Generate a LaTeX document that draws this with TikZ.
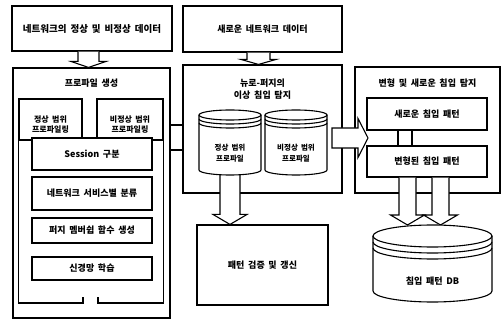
\documentclass[tikz,border=0pt]{standalone}
\usepackage{fontspec}
\setmainfont{Noto Sans CJK KR}[WordSpace=1.8]
\usetikzlibrary{calc}

\tikzset{
  box/.style={rectangle,draw,fill=white,line width=1.1pt,inner sep=0pt,align=center,
    font=\bfseries\fontsize{9}{11}\selectfont},
  blk/.style={draw,fill=white,line width=1.1pt,line join=miter},
  cyl/.style={draw,fill=white,line width=1.1pt},
  lbl/.style={inner sep=0pt,align=center,font=\bfseries\fontsize{9}{12}\selectfont},
  small/.style={inner sep=0pt,align=center,font=\bfseries\fontsize{7.5}{11}\selectfont},
}

% block arrow pointing down: from, to, half stem, half head, head length
\newcommand{\blkdown}[5]{%
  \filldraw[blk] let \p1=(#1), \p2=(#2) in
    (\x1-#3,\y1) -- (\x1-#3,\y2+#5) -- (\x1-#4,\y2+#5) -- (\x2,\y2)
    -- (\x1+#4,\y2+#5) -- (\x1+#3,\y2+#5) -- (\x1+#3,\y1);
}
% block arrow pointing right: from, to, half stem, half head, head length
\newcommand{\blkright}[5]{%
  \filldraw[blk] let \p1=(#1), \p2=(#2) in
    (\x1,\y1+#3) -- (\x2-#5,\y1+#3) -- (\x2-#5,\y1+#4) -- (\x2,\y2)
    -- (\x2-#5,\y1-#4) -- (\x2-#5,\y1-#3) -- (\x1,\y1-#3) -- cycle;
}
% drum: name, centre x, y of top ellipse, y of body bottom, rx, ry, rim gap
\newcommand{\drum}[7]{%
  \filldraw[cyl] (#2-#5,#3) -- (#2-#5,#4) arc[start angle=180,end angle=360,x radius=#5,y radius=#6] -- (#2+#5,#3);
  \filldraw[cyl] (#2,#3) ellipse [x radius=#5,y radius=#6];
  \draw[line width=1.1pt] (#2-#5,#3-#7) arc[start angle=180,end angle=360,x radius=#5,y radius=#6];
  \draw[line width=1.1pt] (#2-#5,#3-2*#7) arc[start angle=180,end angle=360,x radius=#5,y radius=#6];
  \coordinate (#1-top) at (#2,#3+#6);
  \coordinate (#1-bot) at (#2,#4);
}

\begin{document}
\begin{tikzpicture}[x=1pt,y=1pt]
  \useasboundingbox[fill=white] (0,0) rectangle (502,326);

  % input data
  \node[box,minimum width=160,minimum height=45,font=\bfseries\fontsize{9.5}{11}\selectfont] (datatop) at (92,297.5) {네트워크의 정상 및 비정상 데이터};
  \node[box,minimum width=159,minimum height=46] (newdata) at (262.5,297) {새로운 네트워크 데이터};

  % profile generation
  \node[box,minimum width=157,minimum height=250] (profgen) at (91.5,133) {};
  \node[lbl] (proftitle) at (91.5,243) {프로파일 생성};
  \node[box,minimum width=63,minimum height=41] (prof1) at (50.5,206.5) {};
  \node[box,minimum width=66,minimum height=41] (prof2) at (130,206.5) {};
  \node[small,font=\bfseries\fontsize{8}{10}\selectfont] (prof1txt) at (50.5,201) {정상 범위\\프로파일링};
  \node[small,font=\bfseries\fontsize{8}{10}\selectfont] (prof2txt) at (130,201) {비정상 범위\\프로파일링};
  \coordinate (gapL) at (83,29);
  \coordinate (gapR) at (98,29);
  \draw[line width=1.1pt] (gapL) -- (83,23) -| (prof1.north west);
  \draw[line width=1.1pt] (gapR) -- (98,23) -| (prof2.north east);
  \node[box,minimum width=120,minimum height=32] (session) at (92,172) {Session 구분};
  \node[box,minimum width=120,minimum height=33] (service) at (92,132.5) {네트워크 서비스별 분류};
  \node[box,minimum width=120,minimum height=25] (fuzzy) at (92,95.5) {퍼지 멤버쉽 함수 생성};
  \node[box,minimum width=120,minimum height=23] (neural) at (92,57.5) {신경망 학습};

  % anomaly detection
  \node[box,minimum width=159,minimum height=128] (neuro) at (262.5,197) {};
  \node[lbl] (neurotitle) at (262.5,237) {뉴로-퍼지의\\이상 침입 탐지};
  \node[box,minimum width=131,minimum height=80] (check) at (262.5,61) {패턴 검증 및 갱신};

  % misuse detection
  \node[box,minimum width=145,minimum height=126] (detect) at (427.5,196) {};
  \node[lbl] (detecttitle) at (427.5,243) {변형 및 새로운 침입 탐지};
  \node[box,minimum width=120,minimum height=32] (newpat) at (427,212) {새로운 침입 패턴};
  \node[box,minimum width=120,minimum height=31] (varpat) at (427,164.5) {변형된 침입 패턴};
  \coordinate (s1) at (398,0);
  \coordinate (s2) at (412,0);
  \draw[line width=1.1pt] (s1 |- newpat.south) -- (s1 |- varpat.north);
  \draw[line width=1.1pt] (s2 |- newpat.south) -- (s2 |- varpat.north);

  % arrows
  \coordinate (a1) at (88.5,0);
  \coordinate (a2) at (258.5,0);
  \blkdown{a1 |- datatop.south}{a1 |- profgen.north}{10.5pt}{17.5pt}{6pt}
  \blkdown{a2 |- newdata.south}{a2 |- neuro.north}{11.5pt}{17.5pt}{5pt}
  \coordinate (h1) at (0,201);
  \coordinate (h2) at (0,176);
  \draw[line width=1.1pt] (h1 -| profgen.east) -- (h1 -| neuro.west);
  \draw[line width=1.1pt] (h2 -| profgen.east) -- (h2 -| neuro.west);
  \coordinate (r1) at (332,188);
  \coordinate (r2) at (368,188);
  \blkright{r1}{r2}{10pt}{19.5pt}{10pt}
  \coordinate (d1) at (407.5,0);
  \coordinate (d2) at (440.5,0);
  \blkdown{d1 |- varpat.south}{d1 |- 0,101}{8.5pt}{17pt}{10pt}
  \blkdown{d2 |- varpat.south}{d2 |- 0,101}{8.5pt}{17pt}{10pt}
  \coordinate (c1) at (230,156);
  \blkdown{c1}{c1 |- check.north}{10pt}{17pt}{10pt}

  % profile drums
  \drum{cyl1}{230}{211}{156}{31}{5}{4}
  \drum{cyl2}{296}{211}{156}{31}{5}{4}
  \node[small] (cyl1txt) at (230,172.5) {정상 범위\\프로파일};
  \node[small] (cyl2txt) at (296,172.5) {비정상 범위\\프로파일};

  % pattern database
  \drum{db}{432.5}{90}{35}{59.5}{11}{6}
  \node[lbl] (dbtxt) at (432.5,45) {침입 패턴 DB};
\end{tikzpicture}
\end{document}
